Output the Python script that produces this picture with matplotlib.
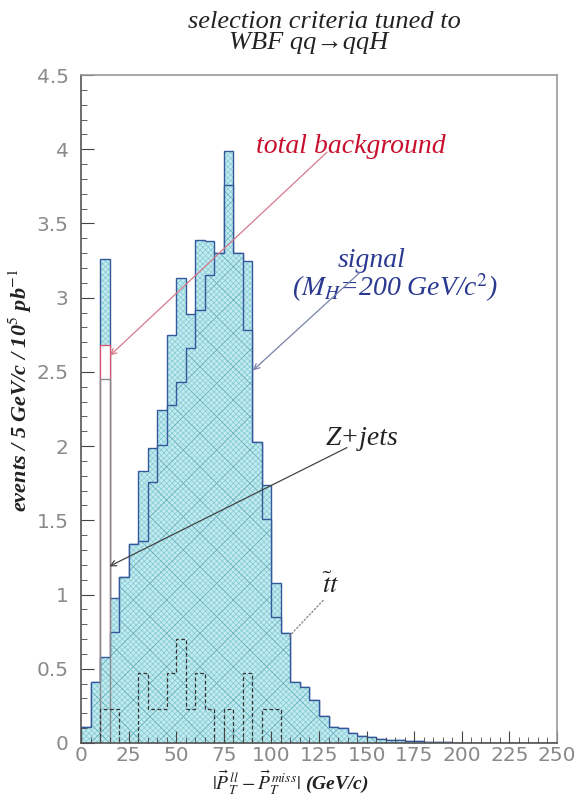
import matplotlib
matplotlib.use("Agg")
import matplotlib.pyplot as plt
import numpy as np

# ---- data (events / 5 GeV/c / 10^5 pb^-1) ----
bin_edges = np.arange(0, 255, 5)

signal = np.array([
    0.11, 0.41, 0.58, 0.75, 1.12, 1.34, 1.36, 1.76, 2.01, 2.28,
    2.43, 2.66, 2.92, 3.15, 3.30, 3.76, 3.30, 2.78, 2.03, 1.51,
    0.85, 0.74, 0.41, 0.38, 0.29, 0.18, 0.11, 0.10, 0.07, 0.05,
    0.04, 0.03, 0.02, 0.02, 0.015, 0.015, 0.01, 0.005, 0.005, 0,
    0, 0, 0, 0, 0, 0, 0, 0, 0, 0,
])
ttbar = np.array([
    0, 0, 0.23, 0.23, 0, 0, 0.47, 0.23, 0.23, 0.47,
    0.70, 0.23, 0.47, 0.23, 0, 0.23, 0, 0.47, 0, 0.23,
    0.23, 0, 0, 0, 0, 0, 0, 0, 0, 0,
    0, 0, 0, 0, 0, 0, 0, 0, 0, 0,
    0, 0, 0, 0, 0, 0, 0, 0, 0, 0,
])
zjets = np.array([0, 0, 2.45] + [0] * 47)

xtick_values = [0, 25, 50, 75, 100, 125, 150, 175, 200, 225, 250]
xtick_labels = [str(v) for v in xtick_values]
ytick_values = [0, 0.5, 1, 1.5, 2, 2.5, 3, 3.5, 4, 4.5]
ytick_labels = ["0", "0.5", "1", "1.5", "2", "2.5", "3", "3.5", "4", "4.5"]

background = zjets + ttbar
total = signal + background

# ---- style ----
CYAN = "#c2ebf0"
FINE = "#84cad4"
COARSE = "#68b0ba"
BLUE = "#34589c"
RED = "#d8506a"
SERIF = ["Liberation Serif", "DejaVu Serif"]

plt.rcParams["hatch.linewidth"] = 0.5
plt.rcParams["mathtext.fontset"] = "stix"

W, H = 580, 800
fig = plt.figure(figsize=(W / 100, H / 100), dpi=100)
ax = fig.add_axes([81 / W, 1 - 743 / H, (557 - 81) / W, (743 - 75) / H])


def fig_xy(x, y):
    return x / W, 1 - y / H


# total = signal + background, light cyan with fine mesh
ax.stairs(total, bin_edges, fill=True, facecolor=CYAN, edgecolor="none", linewidth=0)
ax.stairs(total, bin_edges, fill=True, facecolor="none", edgecolor=FINE, hatch="xxxxxx", linewidth=0)
ax.stairs(total, bin_edges, color=BLUE, linewidth=1.0)

# total background (white box, red outline)
ax.stairs(background, bin_edges, fill=True, facecolor="white", edgecolor=RED, linewidth=0.9)

# signal on top, fine mesh + coarse cross-hatch
ax.stairs(signal, bin_edges, fill=True, facecolor=CYAN, edgecolor="none", linewidth=0)
ax.stairs(signal, bin_edges, fill=True, facecolor="none", edgecolor=FINE, hatch="xxxxxx", linewidth=0)
ax.stairs(signal, bin_edges, fill=True, facecolor="none", edgecolor=COARSE, hatch="x", linewidth=0)
ax.stairs(signal, bin_edges, color=BLUE, linewidth=1.0)

# individual backgrounds
ax.stairs(zjets, bin_edges, color="#8a8a8a", linewidth=1.0)
ax.stairs(ttbar, bin_edges, color="#333333", linewidth=0.9, linestyle=(0, (3, 2)))

ax.set_xlim(0, 250)
ax.set_ylim(0, 4.5)
ax.set_xticks(xtick_values, xtick_labels)
ax.set_yticks(ytick_values, ytick_labels)
ax.set_xticks(np.arange(0, 251, 5), minor=True)
ax.set_yticks(np.arange(0, 4.51, 0.1), minor=True)
ax.tick_params(which="both", direction="in", color="#444444", labelcolor="#8a8a8a",
               labelsize=14.5)
ax.tick_params(axis="x", which="major", length=9, pad=2)
ax.tick_params(axis="x", which="minor", length=4.5)
ax.tick_params(axis="y", which="major", length=9, pad=9)
ax.tick_params(axis="y", which="minor", length=4.5)
for side in ("left", "bottom"):
    ax.spines[side].set_color("#555555")
    ax.spines[side].set_linewidth(1.2)
for side in ("top", "right"):
    ax.spines[side].set_color("#9a9a9a")
    ax.spines[side].set_linewidth(1.2)

# ---- annotations ----
ax.text(141.8, 4.02, "total background", color="#c8102e", fontsize=20, family=SERIF,
        style="italic", ha="center", va="center")
ax.annotate("", xy=(15.2, 2.61), xytext=(129.2, 3.98),
            arrowprops=dict(arrowstyle="->", color="#d57a8a", lw=0.9, shrinkA=0, shrinkB=0))

ax.text(152.8, 3.25, "signal", color="#2b3990", fontsize=20, family=SERIF,
        style="italic", ha="center", va="center")
ax.text(164.9, 3.07, "($M_H$=200 GeV/c$^2$)", color="#2b3990", fontsize=20, family=SERIF,
        style="italic", ha="center", va="center")
ax.annotate("", xy=(90.3, 2.51), xytext=(146.5, 3.17),
            arrowprops=dict(arrowstyle="->", color="#7782a8", lw=0.9, shrinkA=0, shrinkB=0))

ax.text(147.6, 2.05, "Z+jets", color="#222222", fontsize=20, family=SERIF,
        style="italic", ha="center", va="center")
ax.annotate("", xy=(14.9, 1.19), xytext=(139.7, 1.99),
            arrowprops=dict(arrowstyle="->", color="#444444", lw=0.9, shrinkA=0, shrinkB=0))

ax.text(131.3, 1.06, r"$\tilde{t}t$", color="#222222", fontsize=19,
        ha="center", va="center")
ax.annotate("", xy=(108.7, 0.71), xytext=(127.1, 0.96),
            arrowprops=dict(arrowstyle="-", color="#888888", lw=1.0, linestyle=":",
                            shrinkA=0, shrinkB=0))

# ---- titles ----
fig.text(*fig_xy(324, 28), "selection criteria tuned to", fontsize=19, family=SERIF,
         style="italic", ha="center", va="baseline", color="#222222")
fig.text(*fig_xy(309, 49), "WBF qq→qqH", fontsize=19, family=SERIF,
         style="italic", ha="center", va="baseline", color="#222222")

fig.text(*fig_xy(290, 797), r"$|\vec{P}_T^{\,ll}-\vec{P}_T^{\,miss}|$ (GeV/c)", fontsize=14,
         family=SERIF, style="italic", weight="bold", ha="center", va="bottom", color="#222222")
fig.text(*fig_xy(20, 390), "events / 5 GeV/c / 10$^5$ pb$^{-1}$", fontsize=16, family=SERIF,
         style="italic", weight="bold", rotation=90, ha="center", va="center", color="#222222")

fig.savefig("out.png", dpi=100)
